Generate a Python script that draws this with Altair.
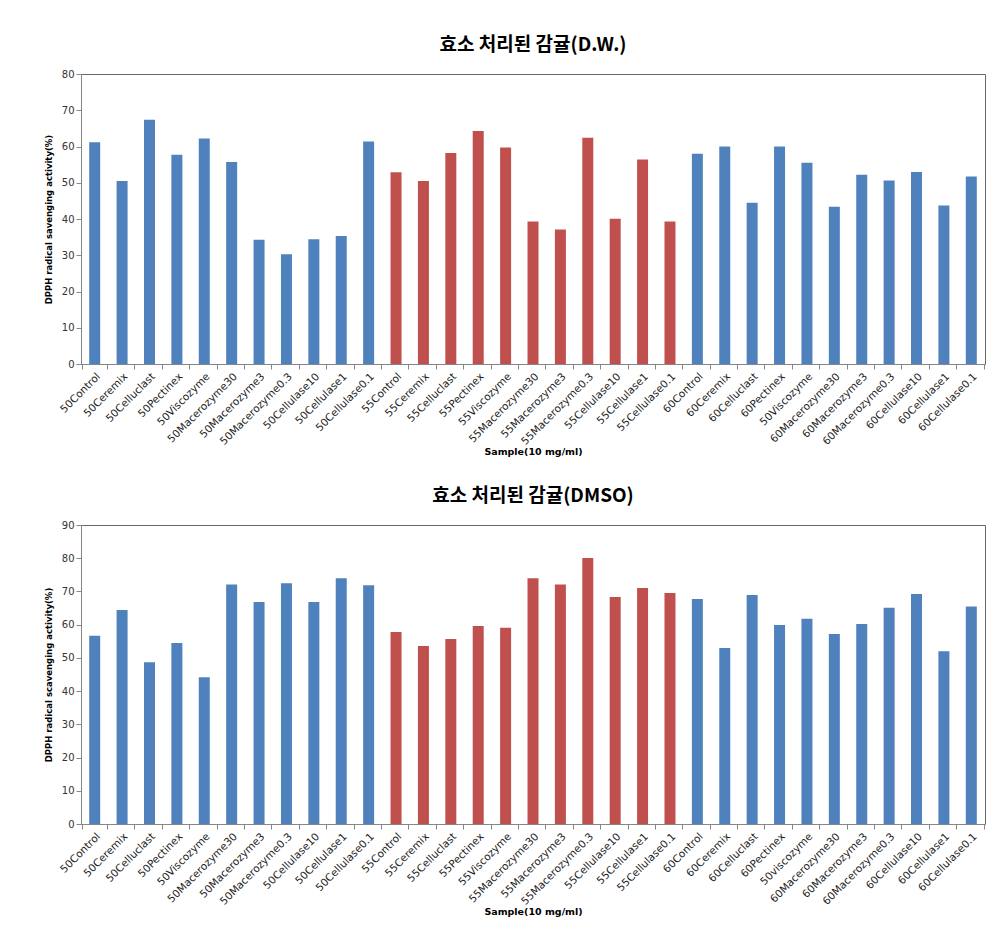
import altair as alt
import pandas as pd

labels_dw = ["50Control", "50Ceremix", "50Celluclast", "50Pectinex", "50Viscozyme",
             "50Macerozyme30", "50Macerozyme3", "50Macerozyme0.3", "50Cellulase10", "50Cellulase1",
             "50Cellulase0.1", "55Control", "55Ceremix", "55Celluclast", "55Pectinex",
             "55Viscozyme", "55Macerozyme30", "55Macerozyme3", "55Macerozyme0.3", "55Cellulase10",
             "55Cellulase1", "55Cellulase0.1", "60Control", "60Ceremix", "60Celluclast",
             "60Pectinex", "50Viscozyme", "60Macerozyme30", "60Macerozyme3", "60Macerozyme0.3",
             "60Cellulase10", "60Cellulase1", "60Cellulase0.1"]
labels_dmso = labels_dw[:26] + ["50viscozyme"] + labels_dw[27:]
groups = ["50"] * 11 + ["55"] * 11 + ["60"] * 11

values_dw = [61.2, 50.5, 67.4, 57.7, 62.2, 55.7, 34.3, 30.3, 34.4, 35.3, 61.4,
             52.9, 50.5, 58.2, 64.3, 59.7, 39.3, 37.1, 62.4, 40.1, 56.4, 39.3,
             58.0, 60.0, 44.5, 60.0, 55.5, 43.4, 52.2, 50.6, 53.0, 43.7, 51.7]
values_dmso = [56.7, 64.4, 48.7, 54.5, 44.2, 72.1, 66.8, 72.5, 66.8, 74.0, 71.9,
               57.8, 53.6, 55.7, 59.6, 59.1, 74.0, 72.1, 80.1, 68.3, 71.0, 69.5,
               67.7, 53.0, 68.9, 59.9, 61.8, 57.2, 60.2, 65.1, 69.2, 52.0, 65.5]

BLUE = "#4F81BD"
RED = "#C0504D"


def panel(values, labels, title, ytitle, ymax, height):
    df = pd.DataFrame({"idx": list(range(len(values))), "value": values, "group": groups})
    expr = "[" + ",".join("'" + s + "'" for s in labels) + "][datum.value]"
    return alt.Chart(df, title=alt.TitleParams(
        title, font="Noto Sans CJK KR", fontSize=19, fontWeight="bold", color="#000", offset=14
    )).mark_bar(size=11).encode(
        x=alt.X("idx:O", title="Sample(10 mg/ml)",
                axis=alt.Axis(labelExpr=expr, labelAngle=-45, labelFont="DejaVu Sans",
                              labelFontSize=10.5, labelColor="#222", tickBand="extent",
                              tickSize=5, tickColor="#868686", domainColor="#868686",
                              labelPadding=2,
                              titleFont="DejaVu Sans", titleFontSize=9.5, titleFontWeight="bold",
                              titleColor="#000", titlePadding=0)),
        y=alt.Y("value:Q", title=ytitle,
                scale=alt.Scale(domain=[0, ymax], nice=False),
                axis=alt.Axis(values=list(range(0, ymax + 1, 10)), grid=False,
                              labelFont="DejaVu Sans", labelFontSize=10, labelColor="#333",
                              tickSize=5, tickColor="#868686", domainColor="#868686",
                              titleFont="DejaVu Sans", titleFontSize=8.5, titleFontWeight="bold",
                              titleColor="#000", titlePadding=8)),
        color=alt.Color("group:N", scale=alt.Scale(domain=["50", "55", "60"], range=[BLUE, RED, BLUE]),
                        legend=None),
    ).properties(width=904, height=height)


top = panel(values_dw, labels_dw, "효소 처리된 감귤(D.W.)", "DPPH radical savenging activity(%)", 80, 290)
bottom = panel(values_dmso, labels_dmso, "효소 처리된 감귤(DMSO)", "DPPH radical scavenging activity(%)", 90, 299)

chart = alt.vconcat(top, bottom, spacing=29).configure_view(stroke="#666", strokeWidth=1).properties(
    padding={"left": 35, "top": 27, "right": 0, "bottom": 5}
)

chart.save("out.html", embed_options={"renderer": "svg", "actions": False})
